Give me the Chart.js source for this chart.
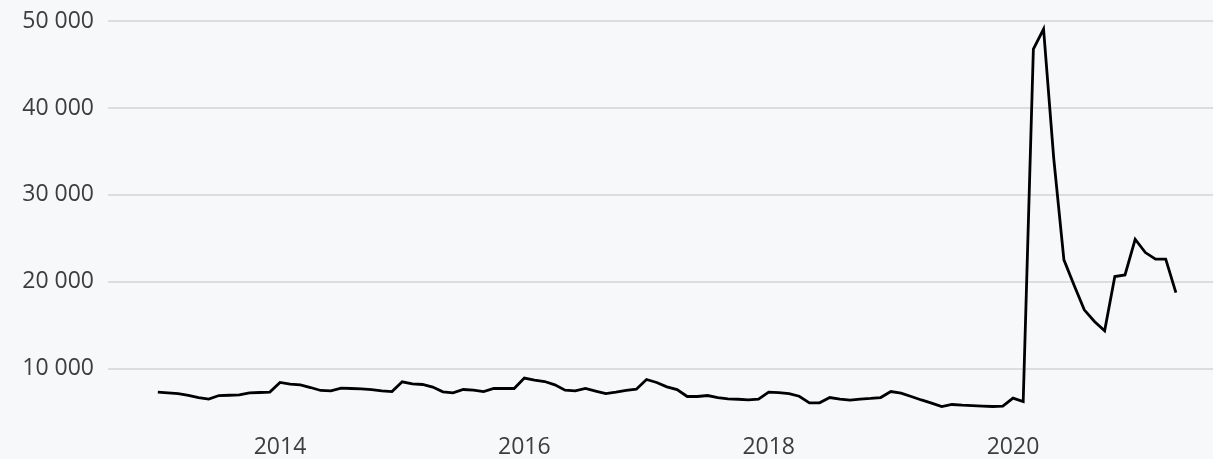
<!DOCTYPE html>
<html>
<head>
<meta charset="utf-8">
<script src="https://cdn.jsdelivr.net/npm/chart.js@4.4.0/dist/chart.umd.min.js"></script>
<style>
    html, body { margin: 0; padding: 0; background: #f7f8fa; }
    #chart { display: block; }
</style>
</head>
<body>
<canvas id="chart" width="1213" height="459"></canvas>
<script>
// monthly values, Jan 2013 .. May 2021
const startYear = 2013;
const values = [
    7320, 7240, 7160, 6950, 6680, 6510, 6930, 6960, 7010, 7240, 7280, 7320,
    8430, 8240, 8160, 7850, 7510, 7470, 7780, 7740, 7700, 7620, 7470, 7390,
    8510, 8280, 8200, 7900, 7360, 7240, 7620, 7550, 7390, 7740, 7760, 7740,
    8930, 8700, 8540, 8160, 7550, 7470, 7740, 7440, 7160, 7320, 7510, 7660,
    8770, 8430, 7930, 7620, 6820, 6820, 6930, 6700, 6550, 6500, 6440, 6510,
    7320, 7260, 7160, 6850, 6090, 6090, 6700, 6510, 6400, 6510, 6590, 6700,
    7390, 7200, 6820, 6420, 6060, 5650, 5900, 5820, 5770, 5720, 5670, 5720,
    6630, 6240, 46780, 49080, 34200, 22530, 19600, 16780, 15440, 14370, 20610, 20800,
    24900, 23370, 22610, 22610, 18770
];
const yearTicks = [2014, 2016, 2018, 2020];
const valueTicks = [10000, 20000, 30000, 40000, 50000];

const points = values.map((v, i) => ({ x: startYear + i / 12, y: v }));

const font = { family: '"Open Sans", sans-serif', size: 23, weight: 400 };

new Chart(document.getElementById('chart'), {
    type: 'line',
    data: {
        datasets: [{
            data: points,
            borderColor: '#000000',
            borderWidth: 2.8,
            pointRadius: 0,
            tension: 0,
            fill: false
        }]
    },
    options: {
        responsive: false,
        animation: false,
        layout: { padding: { top: 21, right: 0, bottom: 0, left: 0 } },
        plugins: {
            legend: { display: false },
            tooltip: { enabled: false }
        },
        scales: {
            x: {
                type: 'linear',
                min: 2012.592,
                max: 2021.637,
                afterBuildTicks: scale => {
                    scale.ticks = yearTicks.map(v => ({ value: v }));
                },
                afterFit: scale => {
                    scale.height = 38;
                    scale.paddingLeft = 0;
                    scale.paddingRight = 0;
                },
                grid: { display: false, drawTicks: false },
                border: { display: false },
                ticks: {
                    padding: 13,
                    color: '#3d3d3d',
                    font: font,
                    maxRotation: 0,
                    callback: v => String(v)
                }
            },
            y: {
                min: 4000,
                max: 50000,
                afterBuildTicks: scale => {
                    scale.ticks = valueTicks.map(v => ({ value: v }));
                },
                afterFit: scale => {
                    scale.width = 108;
                    scale.paddingTop = 0;
                    scale.paddingBottom = 0;
                },
                grid: { color: '#dcdddf', lineWidth: 2, drawTicks: false },
                border: { display: false },
                ticks: {
                    padding: 14,
                    color: '#3d3d3d',
                    font: font,
                    callback: v => String(v).replace(/\B(?=(\d{3})+(?!\d))/g, ' ')
                }
            }
        }
    }
});
</script>
</body>
</html>
